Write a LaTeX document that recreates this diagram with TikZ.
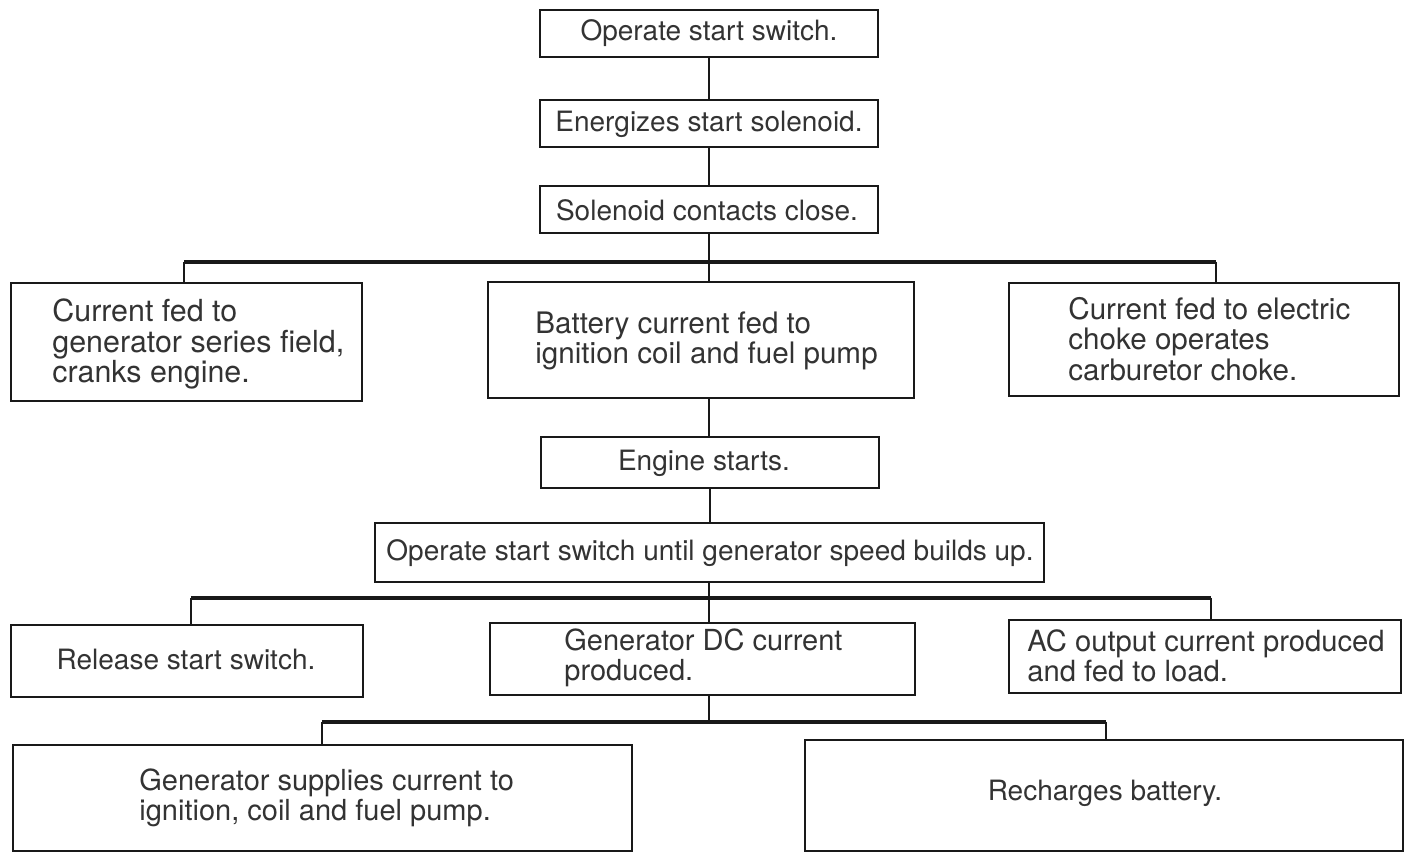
\documentclass[tikz,border=0pt]{standalone}
\usepackage{fontspec}
\setmainfont{TeX Gyre Heros}
\usetikzlibrary{fit}
\begin{document}
\begin{tikzpicture}[x=0.5pt,y=-0.5pt,
  box/.style={draw=black!90, line width=1.3pt, inner sep=0pt, rectangle},
  txt/.style={inner sep=0pt, align=left, text=black!80, font=\fontsize{14}{15.2}\selectfont},
  txtsz/.style={txt, font=\fontsize{#1}{15.2}\selectfont},
  conn/.style={draw=black!90, line width=1pt},
  bus/.style={draw=black!90, line width=1.8pt}]
\useasboundingbox[fill=white] (0,0) rectangle (1410,854);
% boxes
\node[box, fit={(540,10) (878,57)}] (b1) {};
\node[box, fit={(540,100) (878,147)}] (b2) {};
\node[box, fit={(540,186) (878,233)}] (b3) {};
\node[box, fit={(11,283) (362,401)}] (b4) {};
\node[box, fit={(488,282) (914,398)}] (b5) {};
\node[box, fit={(1009,283) (1399,396)}] (b6) {};
\node[box, fit={(541,437) (879,488)}] (b7) {};
\node[box, fit={(375,523) (1044,582)}] (b8) {};
\node[box, fit={(11,625) (363,697)}] (b9) {};
\node[box, fit={(490,623) (915,695)}] (b10) {};
\node[box, fit={(1009,620) (1401,693)}] (b11) {};
\node[box, fit={(13,745) (632,851)}] (b12) {};
\node[box, fit={(805,740) (1403,851)}] (b13) {};
% texts
\node[txt] (t1) at (709,33) {Operate start switch.};
\node[txt] (t2) at (709,124) {Energizes start solenoid.};
\node[txt] (t3) at (707,210) {Solenoid contacts close.};
\node[txtsz=15.2, anchor=west] (t4) at (52,344) {Current fed to\\generator series field,\\cranks engine.};
\node[txtsz=14.8, anchor=west] (t5) at (535,341) {Battery current fed to\\ignition coil and fuel pump};
\node[txtsz=14.8, anchor=west] (t6) at (1068,339) {Current fed to electric\\choke operates\\carburetor choke.};
\node[txt] (t7) at (704,463) {Engine starts.};
\node[txt] (t8) at (710,553) {Operate start switch until generator speed builds up.};
\node[txt] (t9) at (186,660) {Release start switch.};
\node[txtsz=14.5, anchor=west] (t10) at (564,658) {Generator DC current\\produced.};
\node[txtsz=14.6, anchor=west] (t11) at (1027,656) {AC output current produced\\and fed to load.};
\node[txtsz=14.5, anchor=west] (t12) at (139,798) {Generator supplies current to\\ignition, coil and fuel pump.};
\node[txt] (t13) at (1105,793) {Recharges battery.};
% vertical connectors
\draw[conn] (b1.south) -- (b1.south |- b2.north);
\draw[conn] (b2.south) -- (b2.south |- b3.north);
\draw[conn] (b3.south) -- (b3.south |- b5.north);
\draw[conn] (b3.south |- b5.south) -- (b3.south |- b7.north);
\draw[conn] (b7.south) -- (b7.south |- b8.north);
% bus 1
\coordinate (l1) at (184,262);
\coordinate (r1) at (1216,262);
\draw[bus] (l1) -- (r1);
\draw[conn] (l1) -- (l1 |- b4.north);
\draw[conn] (r1) -- (r1 |- b6.north);
% bus 2
\coordinate (l2) at (191,598);
\coordinate (r2) at (1211,598);
\coordinate (j2) at (709,598);
\draw[bus] (l2) -- (r2);
\draw[conn] (j2 |- b8.south) -- (j2 |- b10.north);
\draw[conn] (l2) -- (l2 |- b9.north);
\draw[conn] (r2) -- (r2 |- b11.north);
% bus 3
\coordinate (l3) at (322,722);
\coordinate (r3) at (1106,722);
\coordinate (j3) at (709,722);
\draw[bus] (l3) -- (r3);
\draw[conn] (j3 |- b10.south) -- (j3);
\draw[conn] (l3) -- (l3 |- b12.north);
\draw[conn] (r3) -- (r3 |- b13.north);
\end{tikzpicture}
\end{document}
